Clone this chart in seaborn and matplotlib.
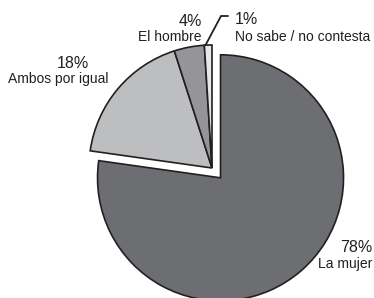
import numpy as np
import matplotlib
matplotlib.use("Agg")
import matplotlib.pyplot as plt
import seaborn as sns

# data
labels = ["La mujer", "Ambos por igual", "El hombre", "No sabe / no contesta"]
values = [78, 18, 4, 1]
pct_text = ["78%", "18%", "4%", "1%"]
colors = ["#6d6e71", "#bcbec0", "#939598", "#e6e7e8"]

W, H = 374, 298

sns.set_theme(style="white")
plt.rcParams["font.family"] = ["Liberation Sans", "DejaVu Sans"]

fig = plt.figure(figsize=(W / 100, H / 100), dpi=100)
ax = fig.add_axes([0, 0, 1, 1])

cx, cy, r = 212, H - 168, 123
# explode is in data units here (pixels), not a fraction of the radius
wedges, _ = ax.pie(
    values, colors=colors, startangle=90, counterclock=False,
    explode=[13, 0, 0, 0], center=(cx, cy), radius=r,
    wedgeprops=dict(edgecolor="#231f20", linewidth=1.2),
    frame=True,
)
ax.set_xlim(0, W)
ax.set_ylim(0, H)
ax.set_aspect("equal")
ax.axis("off")


def img_text(x, y, s, size, ha="center"):
    ax.text(x, H - y, s, fontsize=size, ha=ha, va="center", color="#231f20")


# labels (image pixel coordinates)
img_text(372, 247, pct_text[0], 11.5, ha="right")
img_text(372, 264, labels[0], 10, ha="right")
img_text(73, 64, pct_text[1], 11.5)
img_text(58, 79, labels[1], 10)
img_text(202, 21, pct_text[2], 11.5, ha="right")
img_text(202, 37, labels[2], 10, ha="right")
img_text(235, 20, pct_text[3], 11.5, ha="left")
img_text(235, 37, labels[3], 10, ha="left")

# leader line for the 1% slice
w = wedges[3]
ang = np.deg2rad(w.theta1 + 0.85 * (w.theta2 - w.theta1))
x0, y0 = cx + r * np.cos(ang), cy + r * np.sin(ang)
ax.plot([x0, 221, 228], [y0, H - 16, H - 16], color="#231f20", lw=1.3,
        solid_joinstyle="miter")

fig.savefig("out.png", dpi=100, facecolor="white")
